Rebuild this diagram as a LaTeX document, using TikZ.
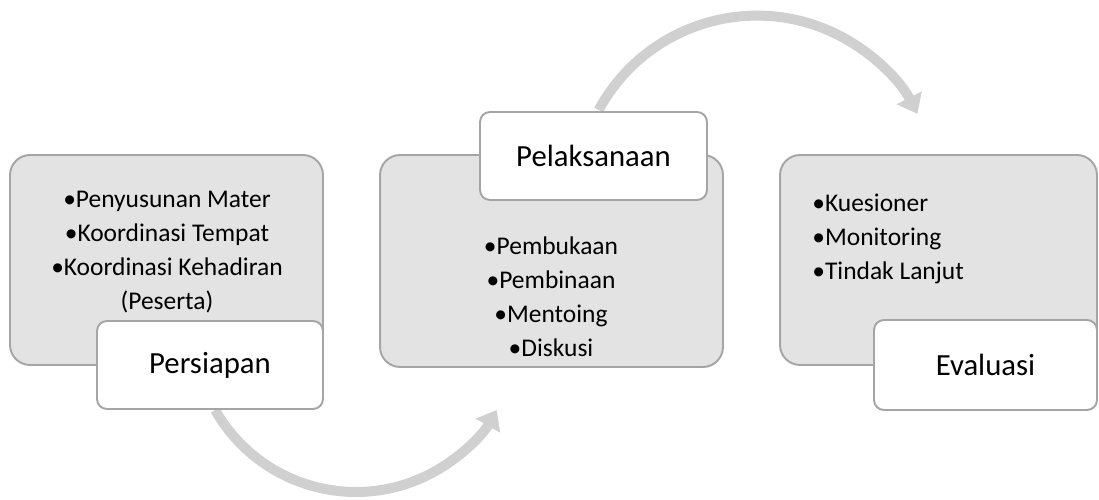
\documentclass[tikz,border=0pt]{standalone}
\usepackage{fontspec}
\setmainfont{Carlito}
\usetikzlibrary{arrows.meta}
\definecolor{boxgray}{HTML}{E3E3E3}
\definecolor{linegray}{HTML}{A5A5A5}
\definecolor{arrowgray}{HTML}{D0D0D0}
\begin{document}
\begin{tikzpicture}[x=0.02cm, y=0.02cm, line join=round,
	back/.style={draw=linegray, fill=boxgray, line width=1.1pt, rounded corners=0.4cm},
	tag/.style={draw=linegray, fill=white, line width=1.1pt, rounded corners=0.2cm, font=\fontsize{17.5}{21}\selectfont},
	items/.style={font=\fontsize{14.5}{19.3}\selectfont, inner sep=0pt},
	flow/.style={arrowgray, line width=0.2cm, -{Triangle[width=0.54cm,length=0.36cm]}}]
	\useasboundingbox (0,0) rectangle (1099,500);
	% curved arrows behind the boxes
	\coordinate (s1) at (215.1,90);
	\coordinate (s2) at (598.7,390);
	\draw[flow] (s1) arc[start angle=209.6, end angle=330.4, radius=3.24cm];
	\draw[flow] (s2) arc[start angle=151.6, end angle=27, radius=3.6cm];
	% grey boxes
	\node[back, minimum width=6.26cm, minimum height=4.2cm] (prep) at (166.5,240) {};
	\node[back, minimum width=6.86cm, minimum height=4.24cm] (exec) at (551.5,239) {};
	\node[back, minimum width=6.34cm, minimum height=4.2cm] (eval) at (938.5,240) {};
	\node[items, align=center] (preplist) at (167,248) {•Penyusunan Mater\\•Koordinasi Tempat\\•Koordinasi Kehadiran\\(Peserta)};
	\node[items, align=center] (execlist) at (551,203) {•Pembukaan\\•Pembinaan\\•Mentoing\\•Diskusi};
	\node[items, align=left, anchor=west] (evallist) at (812,261) {•Kuesioner\\•Monitoring\\•Tindak Lanjut};
	% labels
	\node[tag, minimum width=4.52cm, minimum height=1.76cm] (preptag) at (210,135) {Persiapan};
	\node[tag, minimum width=4.54cm, minimum height=1.76cm] (exectag) at (593.5,344) {Pelaksanaan};
	\node[tag, minimum width=4.46cm, minimum height=1.8cm] (evaltag) at (985.5,135) {Evaluasi};
\end{tikzpicture}
\end{document}
